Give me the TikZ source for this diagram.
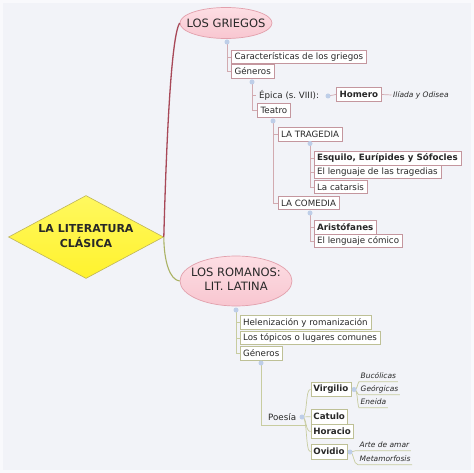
\documentclass[tikz,border=0pt]{standalone}
\usepackage{fontspec}
\setmainfont{DejaVu Sans}
\usetikzlibrary{shapes.geometric,calc}
\definecolor{bgc}{RGB}{242,243,248}
\definecolor{bgedge}{RGB}{249,249,252}
\definecolor{txt}{RGB}{40,40,40}
\definecolor{gline}{RGB}{210,170,176}
\definecolor{gborder}{RGB}{196,150,158}
\definecolor{rline}{RGB}{200,204,160}
\definecolor{rborder}{RGB}{190,192,150}
\definecolor{dotc}{RGB}{190,206,232}
\definecolor{pinktop}{RGB}{253,222,228}
\definecolor{pinkbot}{RGB}{248,198,208}
\definecolor{pinkborder}{RGB}{226,160,172}
\definecolor{yeltop}{RGB}{255,248,95}
\definecolor{yelbot}{RGB}{255,242,45}
\definecolor{yelborder}{RGB}{190,180,90}
\definecolor{redmain}{RGB}{168,72,88}
\definecolor{greenmain}{RGB}{170,178,100}
\begin{document}
\frenchspacing
\begin{tikzpicture}[x=1pt,y=-1pt,
 base/.style={anchor=west,inner xsep=3.3pt,inner ysep=0pt,minimum height=13.5pt,text=txt,font=\fontsize{8.7}{10}\selectfont},
 gbox/.style={base,draw=gborder,fill=white,line width=0.6pt},
 gboxb/.style={gbox,font=\fontsize{8.7}{10}\selectfont\bfseries,minimum height=14pt},
 rbox/.style={base,draw=rborder,fill=white,line width=0.6pt},
 rboxb/.style={rbox,font=\fontsize{8.7}{10}\selectfont\bfseries,minimum height=14.5pt,inner xsep=2.6pt},
 plain/.style={base},
 ital/.style={anchor=west,inner xsep=1.5pt,inner ysep=0pt,minimum height=11pt,text=txt,font=\fontsize{7.5}{9}\selectfont\itshape},
 gl/.style={draw=gline,line width=0.7pt},
 rl/.style={draw=rline,line width=0.7pt},
 dotn/.style={circle,fill=dotc,inner sep=0pt,minimum size=5pt},
 topic/.style={ellipse,draw=pinkborder,top color=pinktop,bottom color=pinkbot,line width=0.7pt,inner sep=0pt,text=txt}
]
\fill[bgedge] (0,0) rectangle (474,473);
\fill[bgc] (3,3) rectangle (471,470);
\useasboundingbox (0,0) rectangle (474,473);

% central topic
\node[diamond,draw=yelborder,top color=yeltop,bottom color=yelbot,line width=0.6pt,minimum width=155pt,minimum height=83pt,inner sep=0pt,text=txt,font=\fontsize{11}{15}\selectfont\bfseries] (main) at (86,237) {\makebox[0pt]{\begin{tabular}{@{}c@{}}LA LITERATURA\\CLÁSICA\end{tabular}}};

% main topics
\node[topic,minimum width=92pt,minimum height=31pt,font=\fontsize{11.5}{14}\selectfont] (griegos) at (226,23) {\makebox[0pt]{LOS GRIEGOS}};
\node[topic,minimum width=112pt,minimum height=50pt,font=\fontsize{11.5}{14}\selectfont] (romanos) at (236,281) {\makebox[0pt]{\begin{tabular}{@{}c@{}}LOS ROMANOS:\\LIT. LATINA\end{tabular}}};

\draw[redmain,line width=1.3pt] (main.east) .. controls (167,120) and (172,35) .. (griegos.west);
\draw[greenmain,line width=1.1pt] (main.east) .. controls (164,262) and (170,280) .. (romanos.west);

% ---------- Greek branch ----------
\coordinate (cg) at (227,42);
\node[gbox] (carac) at (231,57) {Características de los griegos};
\node[gbox] (gen1) at (231,71.5) {Géneros};
\draw[gl] (cg) |- (carac.west);
\draw[gl] (cg) |- (gen1.west);

\coordinate (cgen) at (252,82);
\node[plain] (epica) at (255.7,95) {Épica (s.\ VIII):};
\node[gbox] (teatro) at (257,110.5) {Teatro};
\draw[gl] (cgen) |- (epica.west);
\draw[gl] (cgen) |- (teatro.west);

\coordinate (cep) at (328,96);
\node[gboxb] (homero) at (336,94.5) {Homero};
\draw[gl] (cep) .. controls (332,96) and (332,94.5) .. (homero.west);
\node[ital,minimum height=9pt] (iliada) at (391.5,95) {Ilíada y Odisea};
\draw[gl] (homero.east) -- (iliada.west);

\coordinate (ct) at (273,121);
\node[gbox] (trag) at (277.5,134.5) {LA TRAGEDIA};
\node[gbox] (com) at (277.5,203) {LA COMEDIA};
\draw[gl] (ct) |- (trag.west);
\draw[gl] (ct) |- (com.west);

\coordinate (ctr) at (310,143.5);
\node[gboxb] (esq) at (313.5,158) {Esquilo, Eurípides y Sófocles};
\node[gbox] (leng) at (313.5,172) {El lenguaje de las tragedias};
\node[gbox] (cat) at (313.5,187) {La catarsis};
\draw[gl] (ctr) |- (esq.west);
\draw[gl] (ctr) |- (leng.west);
\draw[gl] (ctr) |- (cat.west);

\coordinate (cco) at (310,213);
\node[gboxb] (arist) at (313.5,227) {Aristófanes};
\node[gbox] (comico) at (313.5,241) {El lenguaje cómico};
\draw[gl] (cco) |- (arist.west);
\draw[gl] (cco) |- (comico.west);

% ---------- Roman branch ----------
\coordinate (cr) at (236,310);
\node[rbox] (helen) at (239.5,322.5) {Helenización y romanización};
\node[rbox] (topicos) at (239.5,338) {Los tópicos o lugares comunes};
\node[rbox] (gen2) at (239.5,353.5) {Géneros};
\draw[rl] (cr) |- (helen.west);
\draw[rl] (cr) |- (topicos.west);
\draw[rl] (cr) |- (gen2.west);

\coordinate (cgen2) at (261,363);
\node[plain,minimum height=16pt] (poesia) at (264.7,417) {Poesía};
\draw[rl] (cgen2) |- ($(poesia.south east)+(7,0)$);

\coordinate (cp) at (302,417);
\node[rboxb] (virgilio) at (310.5,389.3) {Virgilio};
\node[rboxb] (catulo) at (310.5,416.7) {Catulo};
\node[rboxb] (horacio) at (310.5,431.5) {Horacio};
\node[rboxb] (ovidio) at (310.5,451.7) {Ovidio};
\draw[rl] (cp) .. controls (308,417) and (305,389.3) .. (virgilio.west);
\draw[rl] (cp) .. controls (306,417) and (306,416.7) .. (catulo.west);
\draw[rl] (cp) .. controls (307,417) and (305,431.5) .. (horacio.west);
\draw[rl] (cp) .. controls (308,417) and (305,451.7) .. (ovidio.west);

\coordinate (cv) at (354,389.5);
\node[ital] (buc) at (359,376) {Bucólicas};
\node[ital] (geo) at (359,389) {Geórgicas};
\node[ital] (ene) at (359,402) {Eneida};
\draw[rl] (cv) .. controls (358,389.5) and (357,384) .. (buc.south west) -- (buc.south east);
\draw[rl] (cv) .. controls (357,389.5) and (357,394.5) .. (geo.south west) -- (geo.south east);
\draw[rl] (cv) .. controls (358,389.5) and (357,404) .. (ene.south west) -- (ene.south east);

\coordinate (co) at (350,452);
\node[ital] (arte) at (358,445) {Arte de amar};
\node[ital] (meta) at (358,459) {Metamorfosis};
\draw[rl] (co) .. controls (354,452) and (353,450.5) .. (arte.south west) -- (arte.south east);
\draw[rl] (co) .. controls (354,452) and (353,464.5) .. (meta.south west) -- (meta.south east);

% attachment dots
\foreach \c in {cg,cgen,cep,ct,ctr,cco,cr,cgen2,cp,cv,co}
  \node[dotn] at (\c) {};
\end{tikzpicture}
\end{document}
